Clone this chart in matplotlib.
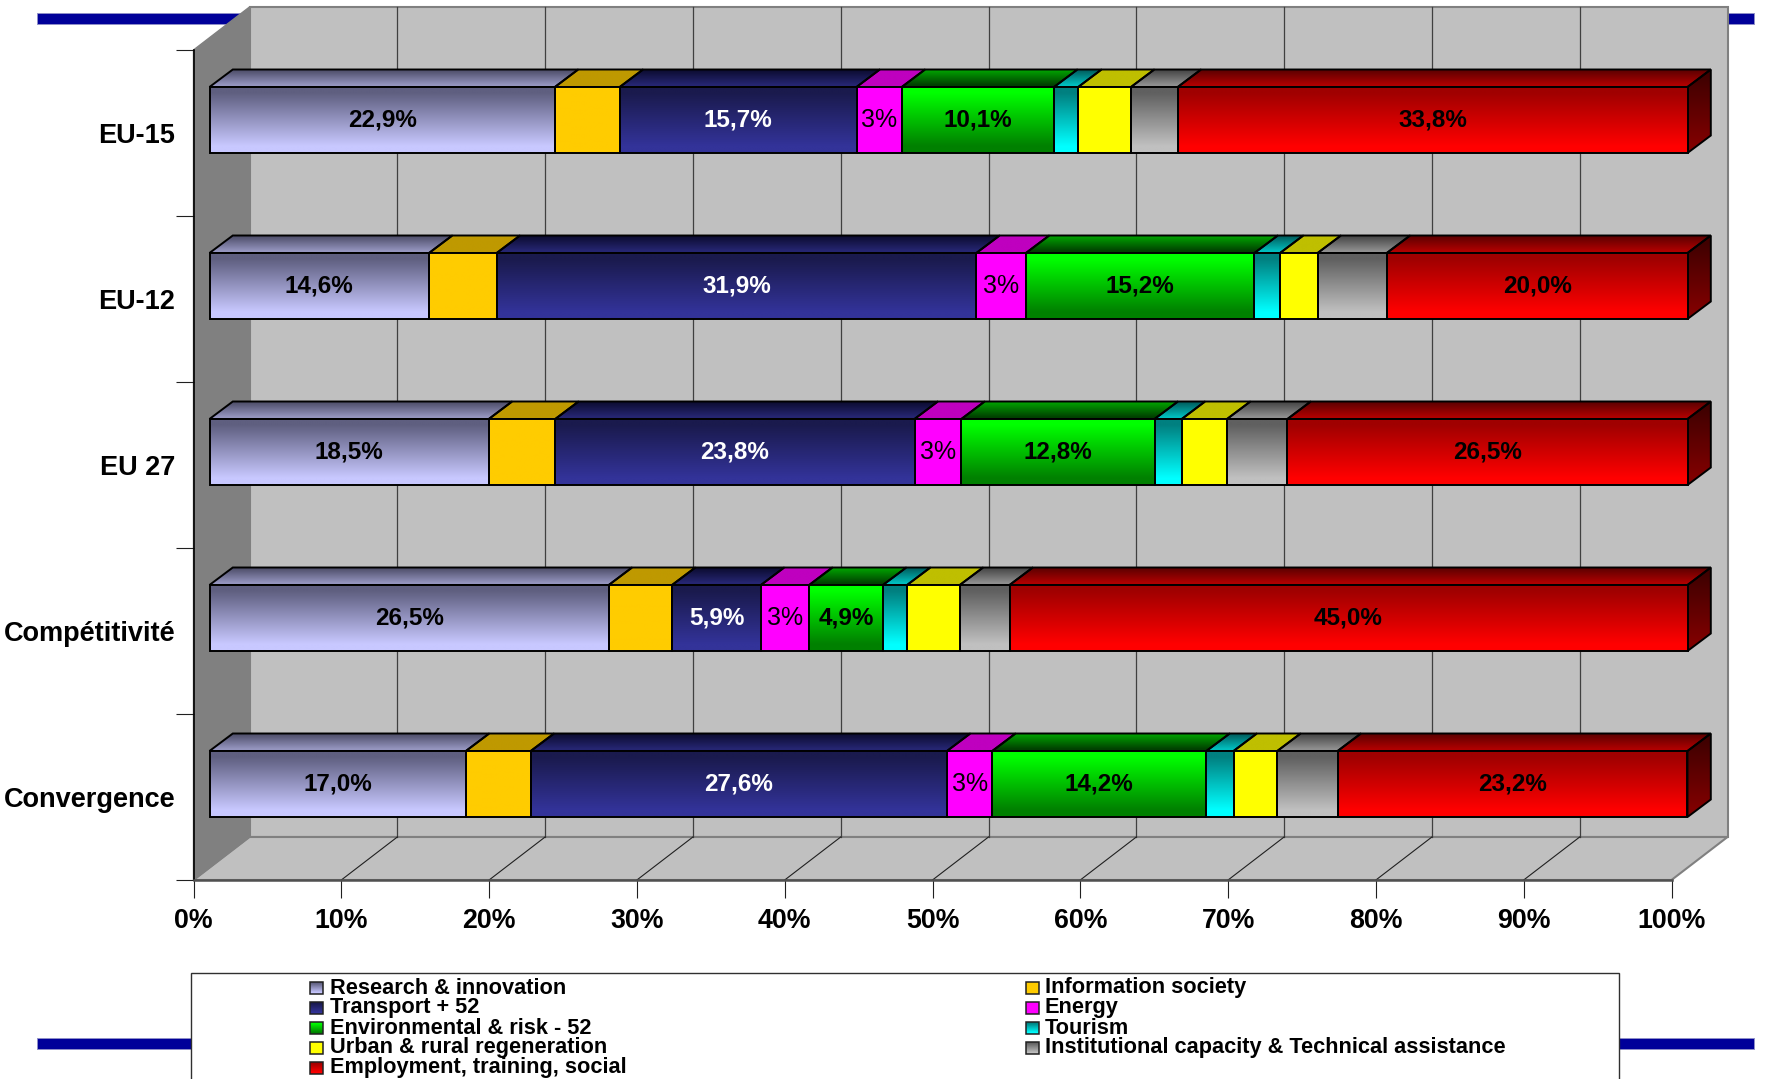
import matplotlib
matplotlib.use('Agg')
import matplotlib.pyplot as plt
from matplotlib.patches import Polygon, Rectangle
from matplotlib.colors import LinearSegmentedColormap
import numpy as np

plt.rcParams['font.family'] = ['Liberation Sans', 'DejaVu Sans']
plt.rcParams['font.weight'] = 'bold'

W, H = 1766, 1079

# datos
categorias = ['EU-15', 'EU-12', 'EU 27', 'Compétitivité', 'Convergence']
series = ['Research & innovation', 'Information society', 'Transport + 52', 'Energy',
          'Environmental & risk - 52', 'Tourism', 'Urban & rural regeneration',
          'Institutional capacity & Technical assistance', 'Employment, training, social']

research = [22.9, 14.6, 18.5, 26.5, 17.0]
info_society = [4.3, 4.5, 4.4, 4.2, 4.3]
transport = [15.7, 31.9, 23.8, 5.9, 27.6]
energy = [3.0, 3.3, 3.1, 3.2, 3.0]
environment = [10.1, 15.2, 12.8, 4.9, 14.2]
tourism = [1.6, 1.7, 1.8, 1.6, 1.8]
urban = [3.5, 2.5, 3.0, 3.5, 2.9]
institutional = [3.1, 4.6, 4.0, 3.3, 4.0]
employment = [33.8, 20.0, 26.5, 45.0, 23.2]

valores = [research, info_society, transport, energy, environment,
           tourism, urban, institutional, employment]

etiquetas = [
    ['22,9%', '14,6%', '18,5%', '26,5%', '17,0%'],
    None,
    ['15,7%', '31,9%', '23,8%', '5,9%', '27,6%'],
    ['3%', '3%', '3%', '3%', '3%'],
    ['10,1%', '15,2%', '12,8%', '4,9%', '14,2%'],
    None,
    None,
    None,
    ['33,8%', '20,0%', '26,5%', '45,0%', '23,2%'],
]

# colores: cara frontal (arriba, abajo), cara superior (atras, delante)
frente = [('#5f5f80', '#c8c8ff'), ('#ffcc00', '#ffcc00'), ('#1a1a4d', '#333399'),
          ('#ff00ff', '#ff00ff'), ('#00ff00', '#008000'), ('#008080', '#00ffff'),
          ('#ffff00', '#ffff00'), ('#606060', '#c0c0c0'), ('#a00000', '#ff0000')]
arriba = [('#50506c', '#9696c0'), ('#bf9900', '#bf9900'), ('#0d0d33', '#262673'),
          ('#bf00bf', '#bf00bf'), ('#00a000', '#004000'), ('#006060', '#00c0c0'),
          ('#bfbf00', '#bfbf00'), ('#484848', '#909090'), ('#600000', '#b00000')]
color_texto = ['black', 'black', 'white', 'black', 'black', 'black', 'black', 'black', 'black']

X0, X1, Y0, Y1 = 193.5, 1671.5, 50, 880
PCT = (X1 - X0) / 100
CAT = (Y1 - Y0) / 5
PARED_X, PARED_Y = 56 / PCT, -43 / CAT
BARRA_X, BARRA_Y = 23.3 / PCT, -17.5 / CAT
INICIO = 16 / PCT
ARRIBA_B, ABAJO_B = 37 / CAT, 103 / CAT


def degradado(ax, verts, c1, c2, zorder):
    # rellena un poligono con un degradado vertical
    cmap = LinearSegmentedColormap.from_list('g', [c1, c2])
    xs = [v[0] for v in verts]
    ys = [v[1] for v in verts]
    g = np.clip(np.linspace(-0.1, 1.12, 64), 0, 1).reshape(-1, 1)
    im = ax.imshow(g, cmap=cmap, vmin=0, vmax=1, aspect='auto', origin='upper',
                   extent=[min(xs), max(xs), max(ys), min(ys)], zorder=zorder,
                   interpolation='bilinear')
    im.set_clip_box(ax.figure.bbox)
    im.set_clip_path(Polygon(verts, closed=True, transform=ax.transData))


fig = plt.figure(figsize=(W / 100, H / 100), dpi=100)

# fondo: lineas azules y caja de la leyenda en pixeles
fondo = fig.add_axes([0, 0, 1, 1], zorder=0)
fondo.set_xlim(0, W)
fondo.set_ylim(H, 0)
fondo.axis('off')
for x, y, w, h in [(37, 13, 1717, 11), (37, 1038, 1717, 10.5)]:
    fondo.add_patch(Rectangle((x, y), w, h, fc='#000099', ec='#8f8fc8', lw=0.7))

ax = fig.add_axes([X0 / W, 1 - Y1 / H, (X1 - X0) / W, (Y1 - Y0) / H], zorder=1)
ax.patch.set_visible(False)
for s in ax.spines.values():
    s.set_visible(False)

# paredes
back = [(PARED_X, PARED_Y), (100 + PARED_X, PARED_Y), (100 + PARED_X, 5 + PARED_Y), (PARED_X, 5 + PARED_Y)]
floor = [(0, 5), (PARED_X, 5 + PARED_Y), (100 + PARED_X, 5 + PARED_Y), (100, 5)]
left = [(0, 0), (PARED_X, PARED_Y), (PARED_X, 5 + PARED_Y), (0, 5)]
ax.add_patch(Polygon(back, closed=True, fc='#c0c0c0', ec='#808080', lw=1.5, clip_on=False, zorder=1))
ax.add_patch(Polygon(floor, closed=True, fc='#c0c0c0', ec='#808080', lw=1.5, clip_on=False, zorder=1))
ax.add_patch(Polygon(left, closed=True, fc='#808080', ec='#808080', lw=1, clip_on=False, zorder=1))
for p in range(10, 100, 10):
    ax.plot([p + PARED_X, p + PARED_X], [PARED_Y, 5 + PARED_Y], color='#404040', lw=0.9, clip_on=False, zorder=2)
    ax.plot([p, p + PARED_X], [5, 5 + PARED_Y], color='#202020', lw=0.8, clip_on=False, zorder=2)
ax.plot([0, 0], [0, 5], color='black', lw=1.2, clip_on=False, zorder=3)
ax.plot([0, 100], [5, 5], color='#505050', lw=1.8, clip_on=False, zorder=3)

# barras 3d apiladas al 100%
tabla = np.array(valores)
pct = tabla / tabla.sum(axis=0) * 100
acum = np.vstack([np.zeros(5), np.cumsum(pct, axis=0)])

for i, cat in enumerate(categorias):
    y1 = i + ARRIBA_B
    y2 = i + ABAJO_B
    for j in range(len(series)):
        a = INICIO + acum[j, i]
        b = INICIO + acum[j + 1, i]
        # cara superior
        top = [(a, y1), (a + BARRA_X, y1 + BARRA_Y), (b + BARRA_X, y1 + BARRA_Y), (b, y1)]
        degradado(ax, top, arriba[j][0], arriba[j][1], 4)
        ax.add_patch(Polygon(top, closed=True, fc='none', ec='black', lw=1.4, clip_on=False, zorder=5))
        # cara frontal
        cara = [(a, y1), (b, y1), (b, y2), (a, y2)]
        degradado(ax, cara, frente[j][0], frente[j][1], 6)
        ax.add_patch(Polygon(cara, closed=True, fc='none', ec='black', lw=1.4, clip_on=False, zorder=7))
        if etiquetas[j] is not None:
            # el 3% de energia va sin negrita
            peso = 'normal' if j == 3 else 'bold'
            tam = 18 if j == 3 else 17.5
            ax.text((a + b) / 2, (y1 + y2) / 2, etiquetas[j][i], ha='center', va='center',
                    fontsize=tam, color=color_texto[j], weight=peso, zorder=8)
    # lado derecho
    fin = INICIO + 100
    lado = [(fin, y1), (fin + BARRA_X, y1 + BARRA_Y), (fin + BARRA_X, y2 + BARRA_Y), (fin, y2)]
    degradado(ax, lado, '#400000', '#800000', 4)
    ax.add_patch(Polygon(lado, closed=True, fc='none', ec='black', lw=1.4, clip_on=False, zorder=5))

ax.set_xlim(0, 100)
ax.set_ylim(5, 0)

ax.set_xticks(range(0, 101, 10))
ax.set_xticklabels([f'{p}%' for p in range(0, 101, 10)])
ax.set_yticks(range(6))
ax.set_yticklabels([])
ax.set_yticks(np.arange(5) + 0.5, labels=categorias, minor=True)
ax.tick_params(axis='x', length=13, width=0.8, color='#202020', labelsize=19.3, pad=7)
ax.tick_params(axis='y', which='major', length=13, width=0.8, color='#202020')
ax.tick_params(axis='y', which='minor', length=0, labelsize=19.5, pad=13)

# leyenda
fondo2 = fig.add_axes([0, 0, 1, 1], zorder=2)
fondo2.set_xlim(0, W)
fondo2.set_ylim(H, 0)
fondo2.axis('off')
fondo2.add_patch(Rectangle((190.5, 972.5), 1428.5, 120, fc='white', ec='#303030', lw=1))
columnas = [(310, 329.5), (1026, 1045)]
for k, nombre in enumerate(series):
    fila = k // 2
    mx, tx = columnas[k % 2]
    yc = 988 + 20 * fila
    caja = [(mx, yc - 6), (mx + 13, yc - 6), (mx + 13, yc + 6), (mx, yc + 6)]
    degradado(fondo2, caja, frente[k][0], frente[k][1], 3)
    fondo2.add_patch(Polygon(caja, closed=True, fc='none', ec='#202020', lw=1.1, zorder=4))
    fondo2.text(tx, yc, nombre, ha='left', va='center', fontsize=15.7, color='black', zorder=5)
fondo2.set_xlim(0, W)
fondo2.set_ylim(H, 0)

fig.savefig('out.png', dpi=100)
